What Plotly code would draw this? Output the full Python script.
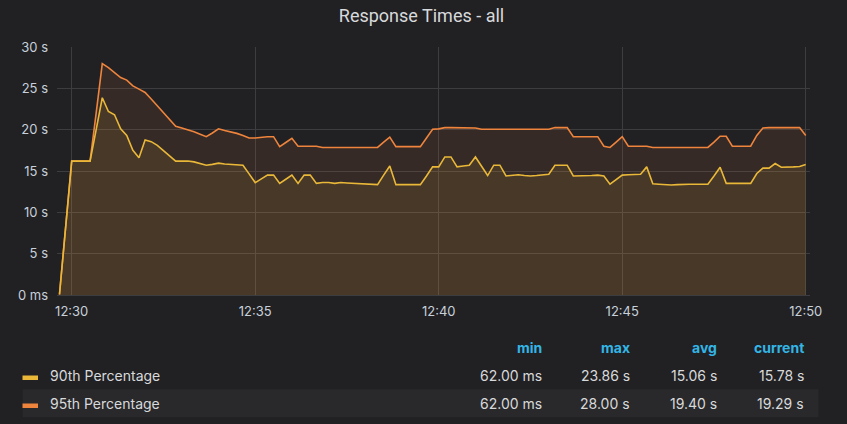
import pandas as pd
import plotly.graph_objects as go

# ---------------- data ----------------
start_time = "2024-01-01 12:29:40"
sample_times = pd.date_range("2024-01-01 12:30:00", "2024-01-01 12:50:00", freq="10s")
times = [pd.Timestamp(start_time)] + list(sample_times)

p90 = [0.062,
       16.2, 16.2, 16.2, 16.2, 20.0, 23.86, 22.2, 21.8, 20.1, 19.3,
       17.5, 16.6, 18.75, 18.55, 18.1, 17.45, 16.75, 16.2, 16.2, 16.2,
       16.1, 15.9, 15.7, 15.8, 15.95, 15.85, 15.8, 15.75, 15.7, 14.65,
       13.6, 14.05, 14.5, 14.5, 13.5, 14.0, 14.5, 13.5, 14.5, 14.5,
       13.5, 13.6, 13.6, 13.5, 13.6, 13.55, 13.5, 13.5, 13.4, 13.4,
       13.35, 14.5, 15.6, 13.35, 13.35, 13.35, 13.35, 13.35, 14.4, 15.5,
       15.5, 16.7, 16.7, 15.5, 15.6, 15.7, 16.7, 15.6, 14.45, 15.7,
       15.7, 14.4, 14.5, 14.55, 14.45, 14.4, 14.45, 14.5, 14.6, 15.7,
       15.7, 15.7, 14.4, 14.4, 14.4, 14.45, 14.5, 14.4, 13.4, 13.95,
       14.5, 14.55, 14.6, 14.6, 15.5, 13.45, 13.4, 13.35, 13.3, 13.35,
       13.4, 13.4, 13.4, 13.4, 13.4, 14.4, 15.45, 13.5, 13.5, 13.5,
       13.5, 13.5, 14.7, 15.35, 15.35, 15.9, 15.45, 15.45, 15.5, 15.55,
       15.78]

p95 = [0.062,
       16.2, 16.2, 16.2, 16.2, 22.0, 28.0, 27.5, 26.9, 26.3, 26.0,
       25.3, 24.9, 24.5, 23.7, 22.85, 22.05, 21.2, 20.4, 20.2, 20.0,
       19.75, 19.45, 19.15, 19.6, 20.1, 19.9, 19.75, 19.55, 19.3, 19.0,
       19.0, 19.1, 19.15, 19.15, 17.95, 18.45, 18.95, 18.0, 18.0, 18.0,
       18.0, 17.85, 17.85, 17.85, 17.85, 17.85, 17.85, 17.85, 17.85, 17.85,
       17.85, 18.5, 19.1, 17.95, 17.95, 17.95, 17.95, 17.95, 19.0, 20.05,
       20.1, 20.25, 20.25, 20.25, 20.25, 20.25, 20.2, 20.05, 20.05, 20.05,
       20.05, 20.05, 20.05, 20.05, 20.05, 20.05, 20.05, 20.05, 20.05, 20.25,
       20.25, 20.25, 19.15, 19.15, 19.15, 19.15, 19.15, 18.0, 17.85, 18.5,
       19.15, 18.0, 18.0, 18.0, 18.0, 17.85, 17.85, 17.85, 17.85, 17.85,
       17.85, 17.85, 17.85, 17.85, 17.85, 18.5, 19.2, 19.2, 18.0, 18.0,
       18.0, 18.0, 19.3, 20.2, 20.25, 20.25, 20.25, 20.25, 20.25, 20.25,
       19.29]

series_names = ["90th Percentage", "95th Percentage"]
series_colors = ["#EAB839", "#EF843C"]
stat_headers = ["min", "max", "avg", "current"]
stats_90 = ["62.00 ms", "23.86 s", "15.06 s", "15.78 s"]
stats_95 = ["62.00 ms", "28.00 s", "19.40 s", "19.29 s"]

y_tick_vals = [0, 5, 10, 15, 20, 25, 30]
y_tick_text = ["0 ms", "5 s", "10 s", "15 s", "20 s", "25 s", "30 s"]
x_tick_vals = ["2024-01-01 12:30:00", "2024-01-01 12:35:00", "2024-01-01 12:40:00",
               "2024-01-01 12:45:00", "2024-01-01 12:50:00"]
x_tick_text = ["12:30", "12:35", "12:40", "12:45", "12:50"]

# ---------------- layout geometry ----------------
W, H = 847, 424
L, R, T, B = 57, 810, 47, 295
BG = "#212124"
TEXT = "#d8d9da"
FONT = "Inter"


def px(x):
    return (x - L) / (R - L)


def py(y):
    return (B - y) / (B - T)


fig = go.Figure()

fig.add_trace(go.Scatter(
    x=times, y=p95, mode="lines", name=series_names[1],
    line=dict(color=series_colors[1], width=1.6),
    fill="tozeroy", fillcolor="rgba(239,132,60,0.10)",
))
fig.add_trace(go.Scatter(
    x=times, y=p90, mode="lines", name=series_names[0],
    line=dict(color=series_colors[0], width=1.6),
    fill="tozeroy", fillcolor="rgba(234,184,57,0.10)",
))

x_start = pd.Timestamp("2024-01-01 12:30:00") - pd.Timedelta(seconds=(71.7 - L) / 0.6117)
x_end = pd.Timestamp("2024-01-01 12:30:00") + pd.Timedelta(seconds=(R - 71.7) / 0.6117)

grid = "#3d3d40"

fig.update_layout(
    width=W, height=H,
    margin=dict(l=L, r=W - R, t=T, b=H - B, pad=0),
    paper_bgcolor=BG, plot_bgcolor=BG,
    showlegend=False,
    hovermode=False,
    font=dict(family=FONT, color=TEXT, size=13),
    title=dict(text="Response Times - all", x=421.5 / W, xref="container", xanchor="center",
               y=1 - 16 / H, yanchor="middle",
               font=dict(family="Roboto", size=18, color=TEXT)),
    xaxis=dict(
        range=[x_start, x_end], type="date",
        tickvals=x_tick_vals, ticktext=x_tick_text,
        showgrid=True, gridcolor=grid, gridwidth=1,
        zeroline=False, showline=False, ticks="",
        tickfont=dict(family=FONT, size=13, color="#c7d0d9"),
        ticklabelstandoff=7,
    ),
    yaxis=dict(
        range=[0, 30], tickvals=y_tick_vals, ticktext=y_tick_text,
        showgrid=True, gridcolor=grid, gridwidth=1,
        zeroline=True, zerolinecolor=grid, zerolinewidth=1,
        showline=False, ticks="",
        tickfont=dict(family=FONT, size=13, color="#c7d0d9"),
        ticklabelstandoff=8,
    ),
)

# ---------------- legend table ----------------
shapes = []
annotations = []

# highlighted second row
shapes.append(dict(type="rect", xref="paper", yref="paper",
                   x0=px(22.7), x1=px(818.5), y0=py(417.3), y1=py(389.3),
                   fillcolor="#29292c", line=dict(width=0), layer="below"))

col_right = [544, 632, 719, 806]
for h, xr in zip(stat_headers, col_right):
    annotations.append(dict(text="<b>" + h + "</b>", xref="paper", yref="paper",
                            x=px(xr), y=py(347.5), xanchor="right", yanchor="middle",
                            showarrow=False,
                            font=dict(family=FONT, size=14, color="#33b5e5")))

rows = [(series_names[0], series_colors[0], stats_90, 375.5),
        (series_names[1], series_colors[1], stats_95, 403.5)]
for name, color, stats, yc in rows:
    shapes.append(dict(type="rect", xref="paper", yref="paper",
                       x0=px(22.5), x1=px(38), y0=py(yc + 4.5), y1=py(yc),
                       fillcolor=color, line=dict(width=0)))
    annotations.append(dict(text=name, xref="paper", yref="paper",
                            x=px(47.5), y=py(yc), xanchor="left", yanchor="middle",
                            showarrow=False,
                            font=dict(family=FONT, size=14, color=TEXT)))
    for s, xr in zip(stats, col_right):
        annotations.append(dict(text=s, xref="paper", yref="paper",
                                x=px(xr), y=py(yc), xanchor="right", yanchor="middle",
                                showarrow=False,
                                font=dict(family=FONT, size=14, color=TEXT)))

fig.update_layout(shapes=shapes, annotations=annotations)

fig.write_html(
    "out.html",
    config={"displayModeBar": False, "staticPlot": True},
    post_script="document.body.style.margin='0';document.body.style.padding='0';"
                "document.body.style.background='#212124';"
                "document.documentElement.style.background='#212124';",
)
